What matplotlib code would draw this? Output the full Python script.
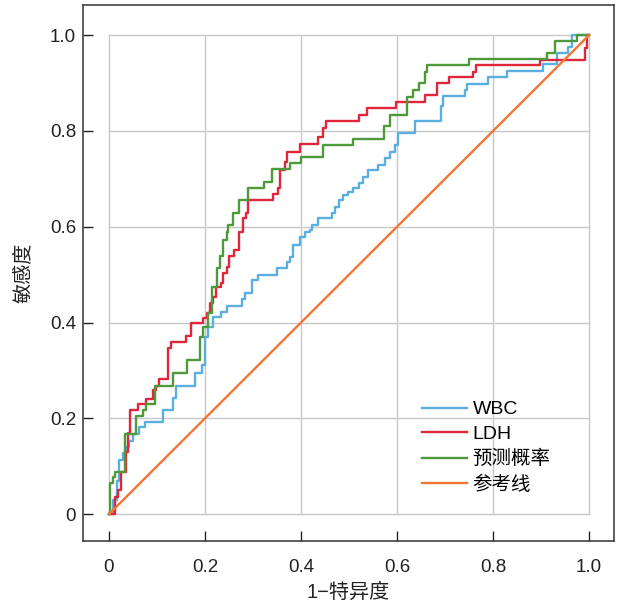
import matplotlib.pyplot as plt

plt.rcParams['font.family'] = ['Liberation Sans', 'Noto Sans CJK SC', 'DejaVu Sans']

# ROC curve vertices (x where the step rises, sensitivity after the rise)
wbc_fpr = [0, 0.008, 0.017, 0.021, 0.029, 0.035, 0.042, 0.05, 0.063, 0.075, 0.112,
           0.134, 0.14, 0.179, 0.194, 0.2, 0.206, 0.217, 0.233, 0.246, 0.277,
           0.283, 0.298, 0.31, 0.35, 0.371, 0.377, 0.383, 0.398, 0.408, 0.419,
           0.423, 0.435, 0.465, 0.471, 0.479, 0.488, 0.498, 0.508, 0.521, 0.529,
           0.54, 0.56, 0.575, 0.585, 0.596, 0.602, 0.6375, 0.692, 0.696, 0.742,
           0.746, 0.79, 0.829, 0.904, 0.933, 0.956, 0.965, 1.0]
wbc_tpr = [0, 0.03, 0.07, 0.113, 0.127, 0.14, 0.152, 0.167, 0.182, 0.192, 0.217,
           0.242, 0.267, 0.294, 0.311, 0.37, 0.39, 0.411, 0.422, 0.434, 0.449,
           0.461, 0.489, 0.5, 0.514, 0.526, 0.536, 0.561, 0.578, 0.589, 0.593,
           0.603, 0.618, 0.628, 0.641, 0.656, 0.666, 0.672, 0.68, 0.691, 0.703,
           0.718, 0.728, 0.743, 0.756, 0.77, 0.795, 0.82, 0.852, 0.873, 0.885,
           0.898, 0.912, 0.925, 0.94, 0.962, 0.975, 1.0, 1.0]

ldh_fpr = [0, 0.0125, 0.018, 0.025, 0.035, 0.039, 0.044, 0.061, 0.078, 0.092,
           0.098, 0.104, 0.123, 0.129, 0.16, 0.171, 0.195, 0.204, 0.21, 0.216,
           0.223, 0.233, 0.237, 0.246, 0.25, 0.26, 0.271, 0.279, 0.285, 0.29,
           0.342, 0.352, 0.356, 0.367, 0.371, 0.398, 0.435, 0.446, 0.452, 0.521,
           0.537, 0.598, 0.658, 0.683, 0.708, 0.758, 0.765, 0.898, 0.992, 0.996, 1.0]
ldh_tpr = [0, 0.035, 0.05, 0.088, 0.13, 0.169, 0.217, 0.23, 0.24, 0.259,
           0.267, 0.282, 0.347, 0.36, 0.372, 0.4, 0.41, 0.42, 0.44, 0.453,
           0.474, 0.482, 0.503, 0.516, 0.54, 0.551, 0.589, 0.618, 0.628, 0.656,
           0.668, 0.68, 0.718, 0.735, 0.756, 0.772, 0.787, 0.806, 0.82, 0.833,
           0.848, 0.86, 0.875, 0.9, 0.912, 0.923, 0.937, 0.948, 0.973, 1.0, 1.0]

pred_fpr = [0, 0.002, 0.008, 0.013, 0.033, 0.056, 0.07, 0.078, 0.096, 0.134,
            0.162, 0.19, 0.196, 0.206, 0.214, 0.225, 0.231, 0.238, 0.246, 0.248,
            0.258, 0.271, 0.29, 0.323, 0.34, 0.377, 0.4, 0.446, 0.508, 0.573,
            0.585, 0.62, 0.633, 0.646, 0.658, 0.662, 0.75, 0.912, 0.929, 0.975, 1.0]
pred_tpr = [0, 0.065, 0.077, 0.088, 0.167, 0.205, 0.217, 0.23, 0.267, 0.294,
            0.321, 0.37, 0.39, 0.42, 0.474, 0.514, 0.54, 0.572, 0.589, 0.603,
            0.628, 0.656, 0.68, 0.693, 0.72, 0.733, 0.745, 0.77, 0.783, 0.81,
            0.833, 0.87, 0.885, 0.9, 0.923, 0.937, 0.95, 0.962, 0.987, 1.0, 1.0]

ref_x = [0, 1]
ref_y = [0, 1]

ticks = [0, 0.2, 0.4, 0.6, 0.8, 1.0]
tick_labels = ['0', '0.2', '0.4', '0.6', '0.8', '1.0']

fig = plt.figure(figsize=(6.2, 6.07), dpi=100)
ax = fig.add_axes([83 / 620, 66 / 607, 531 / 620, 536 / 607])

# grid only inside the unit square
for t in ticks:
    ax.plot([t, t], [0, 1], color='#c8c8c8', lw=1.0, zorder=0)
    ax.plot([0, 1], [t, t], color='#c8c8c8', lw=1.0, zorder=0)

ax.plot(wbc_fpr, wbc_tpr, drawstyle='steps-post', color='#5aaee0', lw=1.7, label='WBC')
ax.plot(ldh_fpr, ldh_tpr, drawstyle='steps-post', color='#e0263a', lw=1.7, label='LDH')
ax.plot(pred_fpr, pred_tpr, drawstyle='steps-post', color='#4e9a3a', lw=1.7, label='预测概率')
ax.plot(ref_x, ref_y, color='#f37535', lw=1.7, label='参考线')

ax.set_xlim(-0.054, 1.052)
ax.set_ylim(-0.056, 1.063)
ax.set_xticks(ticks)
ax.set_xticklabels(tick_labels)
ax.set_yticks(ticks)
ax.set_yticklabels(tick_labels)
ax.tick_params(direction='in', length=7, width=1, labelsize=13.5, colors='#222222')
ax.tick_params(axis='x', pad=13)
ax.tick_params(axis='y', pad=5)
for s in ax.spines.values():
    s.set_linewidth(1.1)
    s.set_color('#333333')

ax.set_xlabel('1−特异度', fontsize=14.5, labelpad=5, color='#222222')
ax.set_ylabel('敏感度', fontsize=14.5, labelpad=12, color='#222222')

ax.legend(loc='lower left', bbox_to_anchor=(0.62, 0.07), frameon=False,
          fontsize=14, handlelength=2.3, handletextpad=0.3, labelspacing=0.36,
          borderpad=0)

fig.savefig('out.png', dpi=100)
